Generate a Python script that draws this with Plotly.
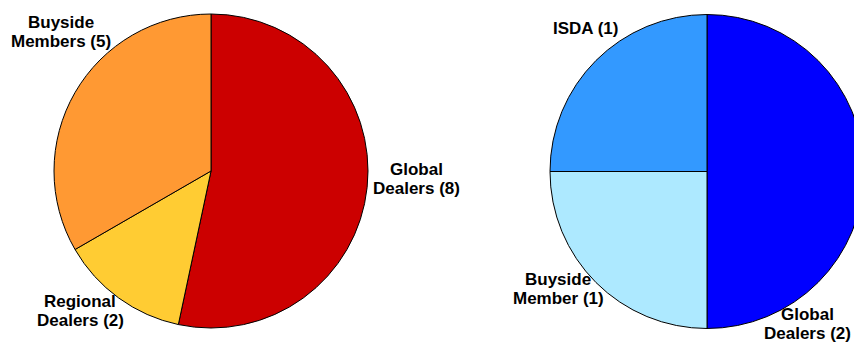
import plotly.graph_objects as go

# ---- data ----
left_labels = ["Global Dealers", "Regional Dealers", "Buyside Members"]
left_values = [8, 2, 5]
left_colors = ["#CC0000", "#FFCC33", "#FF9933"]

right_labels = ["Global Dealers", "Buyside Member", "ISDA"]
right_values = [2, 1, 1]
right_colors = ["#0000FF", "#ADE9FF", "#3399FF"]

W, H = 864, 342  # page is 854 wide; right pie runs off the edge as in the reference

def dom(cx, cy, r):
    return dict(x=[(cx - r) / W, (cx + r) / W], y=[1 - (cy + r) / H, 1 - (cy - r) / H])

fig = go.Figure()
fig.add_trace(go.Pie(labels=left_labels, values=left_values, sort=False, direction="clockwise",
                     rotation=0, marker=dict(colors=left_colors, line=dict(color="black", width=1)),
                     textinfo="none", hoverinfo="label+value", domain=dom(211, 171, 157)))
fig.add_trace(go.Pie(labels=right_labels, values=right_values, sort=False, direction="clockwise",
                     rotation=0, marker=dict(colors=right_colors, line=dict(color="black", width=1)),
                     textinfo="none", hoverinfo="label+value", domain=dom(707, 171.5, 157)))

# label placement (pixel centres of each text line)
left_pos = {"Global Dealers": (416, 169.5), "Regional Dealers": (80, 301), "Buyside Members": (61, 22)}
right_pos = {"Global Dealers": (807, 314), "Buyside Member": (558, 279), "ISDA": (586, 29)}
LINE = 19.2

annotations = []
def add_label(name, value, pos):
    words = name.split(" ")
    if len(words) == 1:
        lines = [f"{name} ({value})"]
    else:
        lines = [" ".join(words[:-1]), f"{words[-1]} ({value})"]
    x, y = pos
    for i, t in enumerate(lines):
        annotations.append(dict(text=t, x=x / W, y=1 - (y + i * LINE) / H, xref="paper", yref="paper",
                                xanchor="center", yanchor="middle", showarrow=False,
                                font=dict(family="Arial, Liberation Sans, sans-serif", size=17,
                                          color="black", weight="bold")))

for n, v in zip(left_labels, left_values):
    add_label(n, v, left_pos[n])
for n, v in zip(right_labels, right_values):
    add_label(n, v, right_pos[n])

fig.update_layout(width=W, height=H, margin=dict(l=0, r=0, t=0, b=0), showlegend=False,
                  paper_bgcolor="white", plot_bgcolor="white", annotations=annotations)

fig.write_html("out.html",
               post_script="document.documentElement.style.overflow='hidden';document.body.style.overflow='hidden';")
